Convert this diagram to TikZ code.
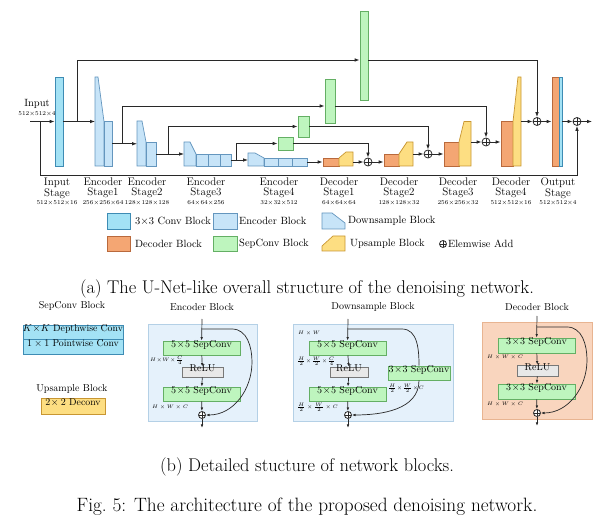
\documentclass[tikz,border=0pt]{standalone}
\usepackage{amsmath}
\usetikzlibrary{arrows.meta,positioning,fit}

\definecolor{convfill}{RGB}{163,226,245}
\definecolor{convline}{RGB}{62,140,180}
\definecolor{encfill}{RGB}{199,228,248}
\definecolor{encline}{RGB}{100,150,190}
\definecolor{decfill}{RGB}{244,166,115}
\definecolor{decline}{RGB}{185,105,60}
\definecolor{sepfill}{RGB}{190,245,190}
\definecolor{sepline}{RGB}{100,175,100}
\definecolor{upfill}{RGB}{253,222,130}
\definecolor{upline}{RGB}{200,150,50}
\definecolor{bluepanel}{RGB}{229,241,251}
\definecolor{bluepanelline}{RGB}{180,208,230}
\definecolor{orangepanel}{RGB}{249,213,190}
\definecolor{orangepanelline}{RGB}{232,180,145}
\definecolor{relufill}{RGB}{232,232,232}
\definecolor{relulline}{RGB}{120,120,120}
\definecolor{linec}{RGB}{40,40,40}

\begin{document}
\begin{tikzpicture}[x=1pt, y=-1pt,
  conv/.style={draw=convline, fill=convfill, line width=0.7pt, inner sep=0pt},
  enc/.style={draw=encline, fill=encfill, line width=0.7pt, inner sep=0pt},
  dec/.style={draw=decline, fill=decfill, line width=0.7pt, inner sep=0pt},
  sepc/.style={draw=sepline, fill=sepfill, line width=0.7pt, inner sep=0pt},
  ups/.style={draw=upline, fill=upfill, line width=0.7pt, inner sep=0pt},
  relu/.style={draw=relulline, fill=relufill, line width=0.7pt, inner sep=0pt,
               font=\fontsize{10}{10}\selectfont},
  sepbox/.style={sepc, font=\fontsize{10}{10}\selectfont},
  bluepan/.style={draw=bluepanelline, fill=bluepanel, line width=0.7pt, inner sep=0pt},
  orangepan/.style={draw=orangepanelline, fill=orangepanel, line width=0.7pt, inner sep=0pt},
  arr/.style={draw=linec, line width=0.8pt, -{Latex[length=5pt,width=3.6pt]}},
  barr/.style={draw=linec, line width=0.7pt, -{Latex[length=3.6pt,width=2.6pt]}},
  stg/.style={align=center, font=\fontsize{11}{9.6}\selectfont, inner sep=0pt},
  dimtxt/.style={font=\fontsize{6}{6}\selectfont, inner sep=0pt},
  dimlab/.style={font=\fontsize{5.5}{6}\selectfont, inner sep=0pt, anchor=west},
  lgd/.style={font=\fontsize{10.5}{11}\selectfont, inner sep=0pt, anchor=west},
  ttl/.style={font=\fontsize{10}{10}\selectfont, inner sep=0pt},
  captxt/.style={font=\fontsize{18.4}{20}\selectfont, inner sep=0pt},
  plus/.style={circle, draw=linec, line width=0.8pt, minimum size=8pt, inner sep=0pt,
    fill=white, path picture={\draw[line width=0.7pt]
      (path picture bounding box.north) -- (path picture bounding box.south)
      (path picture bounding box.west) -- (path picture bounding box.east);}},
  splus/.style={plus, minimum size=7pt}]
\useasboundingbox (0,0) rectangle (600,526);

\node[inner sep=0pt, font=\fontsize{10.5}{10}\selectfont] (inlab) at (37,104) {Input};
\node[dimtxt] (indim) at (37,114) {512$\times$512$\times$4};
\coordinate (in0) at (30,121.5);
\coordinate (jl) at (40,121.5);
\node[conv, fit={(55,77)(63,166)}] (ist) {};

\draw[enc] (95,166) -- (95,77) -- (98,77) -- (104,121.5) -- (104,166) -- cycle;
\node[enc, fit={(104,121.5)(112,166)}] (e1) {};
\coordinate (d1in) at (95,121.5);
\coordinate (j0) at (77,121.5);

\draw[enc] (137,166) -- (137,121) -- (142,121) -- (146,142) -- (146,166) -- cycle;
\node[enc, fit={(146,142)(156,166)}] (e2) {};
\coordinate (d2in) at (137,143.75);
\coordinate (j1) at (122,143.75);

\draw[enc] (184,166) -- (184,142) -- (190,142) -- (196,154) -- (196,166) -- cycle;
\node[enc, fit={(196,154)(208,166)}] (e3a) {};
\node[enc, fit={(208,154)(220,166)}] (e3b) {};
\node[enc, fit={(220,154)(231,166)}] (e3c) {};
\coordinate (d3in) at (184,154);
\coordinate (j2) at (168,154);

\draw[enc] (248,166) -- (248,153) -- (255,153) -- (264,158) -- (264,166) -- cycle;
\node[enc, fit={(264,158)(278,166)}] (e4a) {};
\node[enc, fit={(278,158)(292,166)}] (e4b) {};
\node[enc, fit={(292,158)(307,166)}] (e4c) {};
\coordinate (d4in) at (248,160);
\coordinate (j3) at (236,160);

\node[sepc, fit={(360,11)(368,100)}] (sc1) {};
\node[sepc, fit={(325,79)(335,123)}] (sc2) {};
\node[sepc, fit={(298,116)(309,137)}] (sc3) {};
\node[sepc, fit={(278,137)(293,150)}] (sc4) {};

\node[dec, fit={(323,158)(339,166)}] (dec1) {};
\draw[ups] (339,166) -- (339,158) -- (346,152) -- (353,152) -- (353,166) -- cycle;
\coordinate (u1) at (353,162);
\node[plus] (p1) at (368,162) {};

\node[dec, fit={(384,154)(399,166)}] (dec2) {};
\draw[ups] (399,166) -- (399,154) -- (407,142) -- (413,142) -- (413,166) -- cycle;
\coordinate (u2) at (413,154);
\node[plus] (p2) at (428,154) {};

\node[dec, fit={(444,142)(459,166)}] (dec3) {};
\draw[ups] (459,166) -- (459,142) -- (464,121.5) -- (471,121.5) -- (471,166) -- cycle;
\coordinate (u3) at (471,142);
\node[plus] (p3) at (486,142) {};

\node[dec, fit={(501,121.5)(513,166)}] (dec4) {};
\draw[ups] (513,166) -- (513,121.5) -- (518,77) -- (521,77) -- (521,166) -- cycle;
\coordinate (u4) at (521,121.5);
\node[plus] (p4) at (537,121.5) {};

\node[dec, fit={(552,77)(559,166)}] (outd) {};
\node[conv, fit={(559,77)(562,166)}] (outc) {};
\node[plus] (p5) at (577,121.5) {};
\coordinate (out0) at (592,121.5);

\draw[arr] (in0) -- (ist.west);
\draw[arr] (ist.east) -- (d1in);
\draw[arr] (e1.east) -- (d2in);
\draw[arr] (e2.east) -- (d3in);
\draw[arr] (e3c.east) -- (d4in);
\draw[arr] (e4c.east) -- (dec1.west);
\draw[arr] (u1) -- (p1.west);
\draw[arr] (p1.east) -- (p1.east -| dec2.west);
\draw[arr] (u2) -- (p2.west);
\draw[arr] (p2.east) -- (p2.east -| dec3.west);
\draw[arr] (u3) -- (p3.west);
\draw[arr] (p3.east) -- (p3.east -| dec4.west);
\draw[arr] (u4) -- (p4.west);
\draw[arr] (p4.east) -- (outd.west);
\draw[arr] (outc.east) -- (p5.west);
\draw[arr] (p5.east) -- (out0);

\draw[arr] (j0) |- (sc1.west |- 0,60);
\draw[arr] (sc1.east |- 0,60) -| (p4.north);
\draw[arr] (j1) |- (sc2.west |- 0,106);
\draw[arr] (sc2.east |- 0,106) -| (p3.north);
\draw[arr] (j2) |- (sc3.west);
\draw[arr] (sc3.east) -| (p2.north);
\draw[arr] (j3) |- (sc4.west);
\draw[arr] (sc4.east) -| (p1.north);
\draw[arr] (jl) |- (0,175 -| p5) -- (p5.south);

\node[stg] (l0) at (57,188) {Input\\Stage};
\node[stg] (l1) at (103,188) {Encoder\\Stage1};
\node[stg] (l2) at (147,188) {Encoder\\Stage2};
\node[stg] (l3) at (206,188) {Encoder\\Stage3};
\node[stg] (l4) at (279,188) {Encoder\\Stage4};
\node[stg] (l5) at (339,188) {Decoder\\Stage1};
\node[stg] (l6) at (399,188) {Decoder\\Stage2};
\node[stg] (l7) at (458,188) {Decoder\\Stage3};
\node[stg] (l8) at (511,188) {Decoder\\Stage4};
\node[stg] (l9) at (558,188) {Output\\Stage};
\node[dimtxt] at (57,203) {512$\times$512$\times$16};
\node[dimtxt] at (103,203) {256$\times$256$\times$64};
\node[dimtxt] at (147,203) {128$\times$128$\times$128};
\node[dimtxt] at (206,203) {64$\times$64$\times$256};
\node[dimtxt] at (279,203) {32$\times$32$\times$512};
\node[dimtxt] at (339,203) {64$\times$64$\times$64};
\node[dimtxt] at (399,203) {128$\times$128$\times$32};
\node[dimtxt] at (458,203) {256$\times$256$\times$32};
\node[dimtxt] at (511,203) {512$\times$512$\times$16};
\node[dimtxt] at (558,203) {512$\times$512$\times$4};

\node[conv, fit={(107,213)(130,229)}] (lgconv) {};
\node[lgd] (lgconvt) at (135,221) {3$\times$3 Conv Block};
\node[enc, fit={(213,213)(237,229)}] (lgenc) {};
\node[lgd] (lgenct) at (239,221) {Encoder Block};
\draw[enc] (322,229) -- (322,213) -- (332,213) -- (345,223) -- (345,229) -- cycle;
\node[lgd] (lgdownt) at (348,221) {Downsample Block};
\node[dec, fit={(107,236)(130,251)}] (lgdec) {};
\node[lgd] (lgdect) at (135,244) {Decoder Block};
\node[sepc, fit={(213,236)(237,251)}] (lgsep) {};
\node[lgd] (lgsept) at (239,244) {SepConv Block};
\draw[ups] (322,251) -- (322,246) -- (333,236) -- (345,236) -- (345,251) -- cycle;
\node[lgd] (lgupt) at (350,244) {Upsample Block};
\node[plus, minimum size=7pt] (lgplus) at (443,244) {};
\node[lgd, right=1pt of lgplus] (lgplust) {Elemwise Add};

\node[captxt] (capa) at (307,289) {(a) The U-Net-like overall structure of the denoising network.};

\node[ttl] (sct) at (72,306) {SepConv Block};
\node[conv, fit={(23,325)(123,339.5)}, font=\fontsize{9.8}{10}\selectfont] (scdw) {$K\!\times\!K$ Depthwise Conv};
\node[conv, fit={(23,339.5)(123,354)}, font=\fontsize{9.8}{10}\selectfont] (scpw) {$1\times1$ Pointwise Conv};
\node[ttl] (upt) at (72,389) {Upsample Block};
\node[ups, fit={(41,398)(105,414)}, font=\fontsize{9.8}{10}\selectfont] (updc) {$2\!\times 2$ Deconv};

\node[bluepan, fit={(148,324)(257,421)}] (encpan) {};
\node[ttl] (enct) at (202,307) {Encoder Block};
\node[sepbox, fit={(163,341)(240,355)}] (encs1) {$5\!\times\!5$ SepConv};
\node[relu, fit={(182,367)(223,377)}] (encrelu) {ReLU};
\node[sepbox, fit={(163,387)(240,401)}] (encs2) {$5\!\times\!5$ SepConv};
\node[splus] (encadd) at (202,415) {};
\node[dimlab] (encd1) at (150,360.5) {$H\!\times\! W\!\times\! \frac{C}{4}$};
\node[dimlab] (encd2) at (152,407) {$H\times W\times C$};
\coordinate (encin) at (202,319);
\coordinate (encsp) at (202,329);
\coordinate (encb1) at (232,329);
\coordinate (encb2) at (252,362);
\coordinate (encout) at (202,428);
\draw[barr] (encin) -- (encs1);
\draw[barr] (encs1) -- (encrelu);
\draw[barr] (encrelu) -- (encs2);
\draw[barr] (encs2) -- (encadd);
\draw[barr] (encadd) -- (encout);
\draw[barr] (encsp) -- (encb1) to[out=0,in=90] (encb2) to[out=-90,in=0] (encadd.east);

\node[bluepan, fit={(293,324)(453,421)}] (dwpan) {};
\node[ttl] (dwt) at (373,307) {Downsample Block};
\node[sepbox, fit={(309,341)(386,355)}] (dws1) {$5\!\times\!5$ SepConv};
\node[relu, fit={(330,367)(368,377)}] (dwrelu) {ReLU};
\node[sepbox, fit={(309,387)(386,401)}] (dws2) {$5\!\times\!5$ SepConv};
\node[sepbox, fit={(388,366)(450,380)}] (dws3) {$3\!\times\!3$ SepConv};
\node[splus] (dwadd) at (348,415) {};
\node[dimlab] (dwd0) at (298,333) {$H\times W$};
\node[dimlab] (dwd1) at (297,361) {$\frac{H}{2}\!\times\! \frac{W}{2}\!\times\! \frac{C}{4}$};
\node[dimlab] (dwd2) at (297,407) {$\frac{H}{2}\times \frac{W}{2}\times C$};
\node[dimlab] (dwd3) at (388,388) {$\frac{H}{2}\!\times\!\frac{W}{2}\!\times\! C$};
\coordinate (dwin) at (348,319);
\coordinate (dwsp) at (348,329);
\coordinate (dwb1) at (402,329);
\coordinate (dwout) at (348,428);
\draw[barr] (dwin) -- (dws1);
\draw[barr] (dws1) -- (dwrelu);
\draw[barr] (dwrelu) -- (dws2);
\draw[barr] (dws2) -- (dwadd);
\draw[barr] (dwadd) -- (dwout);
\draw[line width=0.7pt, draw=linec] (dwsp) -- (dwb1) to[out=0,in=90] (dws3.north);
\draw[barr] (dws3.south) to[out=-90,in=0] (dwadd.east);

\node[orangepan, fit={(482,322)(592,419)}] (decpan) {};
\node[ttl] (dect) at (537,307) {Decoder Block};
\node[sepbox, fit={(498,338)(575,353)}] (decs1) {$3\!\times\!3$ SepConv};
\node[relu, fit={(517,365)(558,376)}] (decrelu) {ReLU};
\node[sepbox, fit={(498,384)(575,399)}] (decs2) {$3\!\times\!3$ SepConv};
\node[splus] (decadd) at (537,413) {};
\node[dimlab] (decd1) at (487,357) {$H\times W\times C$};
\node[dimlab] (decd2) at (487,404) {$H\times W\times C$};
\coordinate (decin) at (537,316);
\coordinate (decsp) at (537,327);
\coordinate (decb1) at (567,327);
\coordinate (decb2) at (587,360);
\coordinate (decout) at (537,426);
\draw[barr] (decin) -- (decs1);
\draw[barr] (decs1) -- (decrelu);
\draw[barr] (decrelu) -- (decs2);
\draw[barr] (decs2) -- (decadd);
\draw[barr] (decadd) -- (decout);
\draw[barr] (decsp) -- (decb1) to[out=0,in=90] (decb2) to[out=-90,in=0] (decadd.east);

\node[captxt] (capb) at (307,467) {(b) Detailed stucture of network blocks.};
\node[captxt, font=\fontsize{19.3}{21}\selectfont] (capf) at (307,507) {Fig.~5: The architecture of the proposed denoising network.};
\end{tikzpicture}
\end{document}
